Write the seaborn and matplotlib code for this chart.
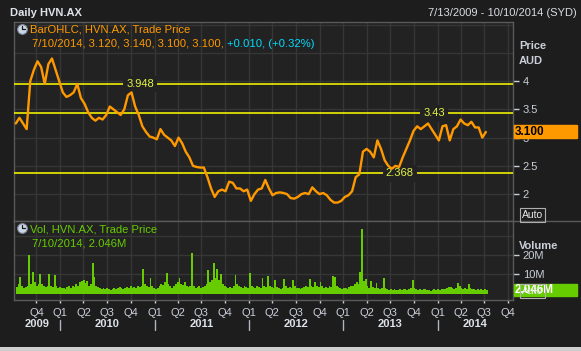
import numpy as np
import pandas as pd
import matplotlib
matplotlib.use("Agg")
import matplotlib.pyplot as plt
import matplotlib.transforms as mtransforms
from matplotlib.lines import Line2D
from matplotlib.patches import Rectangle
import seaborn as sns

# ---- data ----
# price close, sampled every 14 days from 2009-07-13 (AUD)
price_close = [
    3.25, 3.35, 3.25, 3.15, 4.00, 4.20, 4.35, 4.25, 3.95, 4.30,
    4.40, 4.20, 4.00, 3.80, 3.72, 3.75, 3.80, 3.95, 3.70, 3.60,
    3.45, 3.35, 3.30, 3.35, 3.32, 3.40, 3.55, 3.50, 3.45, 3.40,
    3.50, 3.75, 3.80, 3.55, 3.40, 3.20, 3.10, 3.02, 3.00, 2.97,
    3.15, 3.05, 3.00, 2.95, 2.85, 3.00, 2.90, 2.75, 2.65, 2.50,
    2.48, 2.47, 2.47, 2.30, 2.10, 1.95, 2.05, 2.08, 2.05, 2.22,
    2.20, 2.10, 2.10, 2.05, 2.08, 1.88, 2.00, 2.08, 2.10, 2.25,
    2.10, 1.98, 2.02, 2.03, 2.02, 2.00, 1.93, 1.92, 1.95, 2.00,
    2.02, 2.00, 2.12, 2.05, 2.00, 2.02, 1.98, 1.90, 1.85, 1.85,
    1.88, 1.95, 1.98, 2.05, 2.30, 2.35, 2.75, 2.80, 2.75, 2.65,
    2.95, 2.80, 2.60, 2.50, 2.45, 2.50, 2.48, 2.65, 2.80, 2.95,
    3.12, 3.20, 3.15, 3.20, 3.25, 3.15, 3.05, 2.95, 3.20, 3.22,
    2.95, 3.15, 3.20, 3.32, 3.25, 3.22, 3.28, 3.18, 3.18, 3.00,
    3.10,
]

# volume in millions, one bar per week from 2009-07-13
volume_m = [
    3.5, 5, 8.8, 4, 3, 3.5, 4, 20, 5, 11.4, 6, 4, 5,
    10, 5, 4, 3.5, 4, 10, 4, 3.5, 9.5, 4, 3, 3.5, 3,
    3, 2.5, 3.5, 4, 3, 4, 3.5, 5, 4, 6, 6.5, 7, 5.5,
    6.5, 4, 5, 15.7, 8.8, 4, 3.5, 3, 2.5, 3, 2.5, 3, 2.5,
    2, 2.5, 3, 2.5, 3, 3.5, 3, 2.5, 3, 3.5, 3, 4, 3,
    3.5, 3, 4, 3.5, 4, 13, 5, 4, 3.5, 8, 4, 3, 2.5,
    3, 4, 5, 4.5, 6, 10.5, 5, 4, 3, 4, 5, 6, 8,
    5, 4.5, 6, 4, 3.5, 4, 21, 4, 3, 3.5, 4, 3, 3.5,
    4, 5, 12, 6, 7, 15.7, 8, 13, 7, 10, 5, 4, 3.5,
    3, 3.5, 3, 4, 9.5, 5, 4, 3.5, 3, 4, 3.5, 3, 10.5,
    4, 3.5, 3, 4, 3.5, 3, 8, 4, 3.5, 9, 4, 3.5, 3,
    7, 3.5, 3, 2.5, 3, 7.4, 4, 3, 3.5, 3, 7, 4, 3,
    3, 2.5, 3, 3.5, 4, 3.5, 7.4, 4, 3.5, 6, 4, 3.5, 6,
    4, 3, 3.5, 3, 4, 3.5, 9, 8.5, 4, 3.5, 3, 2.5, 3,
    3, 2.5, 3.5, 4, 4, 5, 6, 5, 11, 33.5, 6.5, 7.4, 4,
    3, 6.5, 3.5, 3, 5.7, 3, 2.5, 3, 7.9, 3, 2.5, 2, 2.5,
    2, 2.5, 2, 1.8, 2.5, 2, 2.2, 2.5, 2, 2.5, 3, 7, 3,
    2.5, 2, 2.2, 2, 2.5, 2.5, 2, 1.8, 1.5, 2, 2.5, 2, 2.2,
    2, 2.5, 2.2, 2.5, 3, 3.5, 3.5, 3, 2.5, 3, 5.7, 4, 3,
    2.5, 3, 2.5, 5, 3, 2.5, 2.2, 2, 2.5, 2, 2.2, 2, 2.5,
    2.046,
]

ref_levels = [3.948, 3.43, 2.368]
last_ohlc = [3.120, 3.140, 3.100, 3.100]
last_change = 0.010
last_pct = 0.32
last_date = "7/10/2014"
last_volume = 2.046
years = [2009, 2010, 2011, 2012, 2013, 2014]

price_dates = pd.date_range("2009-07-13", periods=len(price_close), freq="14D")
vol_dates = pd.date_range("2009-07-13", periods=len(volume_m), freq="7D")

# ---- colours ----
BG = "#1d1d1d"
PLOT_BG = "#222222"
GRID = "#363636"
SPINE = "#5a5a5a"
ORANGE = "#ff9900"
GREEN = "#66cc00"
CYAN = "#00ddff"
YELLOW = "#ffff00"
YEL_TXT = "#e2f545"
TXT = "#c9ced8"

sns.set_theme(style="dark", rc={"axes.facecolor": PLOT_BG, "figure.facecolor": BG,
                                "axes.edgecolor": SPINE, "axes.grid": False})
plt.rcParams["font.family"] = ["Liberation Sans", "DejaVu Sans"]

W, H = 581, 351
fig = plt.figure(figsize=(W / 100, H / 100), dpi=100)


def fx(px):
    return px / W


def fy(py):
    return 1 - py / H


ax = fig.add_axes([fx(14), fy(221), fx(513) - fx(14), fy(22) - fy(221)])
axv = fig.add_axes([fx(14), fy(300), fx(513) - fx(14), fy(221) - fy(300)])

x0, x1 = pd.Timestamp("2009-07-06"), pd.Timestamp("2014-10-20")
quarters = pd.date_range("2009-10-01", "2014-10-01", freq="QS")

# --- price panel ---
for v in np.arange(1.5, 5.01, 0.5):
    ax.axhline(v, color=GRID, lw=1, zorder=0)
for q in quarters:
    ax.axvline(q, color=GRID, lw=1, zorder=0)
    axv.axvline(q, color=GRID, lw=1, zorder=0)

# the price line sits above the reference lines and their labels
sns.lineplot(x=price_dates, y=price_close, ax=ax, color=ORANGE, lw=1.7, zorder=5)

ax.set_xlim(x0, x1)
ax.set_ylim(1.524, 5.046)
ax.set_xlabel("")
ax.set_ylabel("")
ax.tick_params(axis="x", bottom=False, labelbottom=False)
ax.yaxis.tick_right()
ax.set_yticks([2, 2.5, 3, 3.5, 4])
ax.set_yticklabels(["2", "2.5", "3", "3.5", "4"])
ax.tick_params(axis="y", right=True, length=4, width=1, pad=3, color=TXT,
               labelcolor=TXT, labelsize=8)

label_dates = ["2010-11-06", "2013-12-19", "2013-08-08"]
for lvl, d in zip(ref_levels, label_dates):
    ax.axhline(lvl, color=YELLOW, lw=1.1, zorder=3)
    ax.text(pd.Timestamp(d), lvl, f"{lvl:g}", color=YEL_TXT, fontsize=8,
            ha="center", va="center", zorder=4,
            bbox=dict(boxstyle="square,pad=0.3", fc=PLOT_BG, ec="none"))

# --- volume panel ---
for v in [10, 20, 30]:
    axv.axhline(v, color=GRID, lw=1, zorder=0)
axv.bar(vol_dates, volume_m, width=7, align="edge", color=GREEN, lw=0, zorder=2)
axv.set_xlim(x0, x1)
axv.set_ylim(-3.3, 37.6)
axv.yaxis.tick_right()
axv.set_yticks([10, 20])
axv.set_yticklabels(["10M", "20M"])
axv.tick_params(axis="y", right=True, length=4, width=1, pad=3, color=TXT,
                labelcolor=TXT, labelsize=8)
axv.set_xticks(quarters)
axv.set_xticklabels([f"Q{q.quarter}" for q in quarters])
axv.tick_params(axis="x", bottom=True, length=2, width=1, pad=4, color=TXT,
                labelcolor=TXT, labelsize=8)

for a in (ax, axv):
    for s in a.spines.values():
        s.set_color(SPINE)
        s.set_linewidth(1)

# year labels under the quarters
blend = mtransforms.blended_transform_factory(axv.transData, axv.transAxes)
for yr in years:
    start = max(pd.Timestamp(f"{yr}-01-01"), x0)
    end = min(pd.Timestamp(f"{yr + 1}-01-01"), x1)
    mid = start + (end - start) / 2
    axv.text(mid, -0.31, str(yr), transform=blend, ha="center", va="center",
             fontsize=8, fontweight="bold", color="#dde1e8", clip_on=False)
    if yr > 2009:
        axv.plot([pd.Timestamp(f"{yr}-01-01")] * 2, [-0.25, -0.38], transform=blend,
                 color="#b0b4bc", lw=1, clip_on=False)

# separator continues to the right edge
fig.add_artist(Line2D([fx(513), 1], [fy(221), fy(221)], color=SPINE, lw=1))

# --- header ---
fig.text(fx(10), fy(13), "Daily HVN.AX", fontsize=8, fontweight="bold",
         color="#e0e3e8", va="center")
fig.text(fx(577), fy(13), "7/13/2009 - 10/10/2014 (SYD)", fontsize=8,
         color="#d8dbe0", va="center", ha="right")


def clock(cx, cy):
    fig.add_artist(Line2D([fx(cx)], [fy(cy)], marker="o", ms=7, mfc="#cdd6e6",
                          mec="#7c8798", mew=0.8))
    fig.add_artist(Line2D([fx(cx), fx(cx)], [fy(cy), fy(cy - 3)], color="k", lw=0.9))
    fig.add_artist(Line2D([fx(cx), fx(cx + 2.5)], [fy(cy), fy(cy)], color="k", lw=0.9))


# price legend
clock(22, 29)
fig.text(fx(30), fy(30), "BarOHLC, HVN.AX, Trade Price", fontsize=8.1,
         color=ORANGE, va="center")
ohlc_txt = ", ".join(f"{v:.3f}" for v in last_ohlc)
t1 = fig.text(fx(32), fy(44), f"{last_date}, {ohlc_txt}, ", fontsize=8.1,
              color=ORANGE, va="center")
ax.annotate(f"+{last_change:.3f}, (+{last_pct:.2f}%)", xy=(1, 0), xycoords=t1,
            va="bottom", ha="left", fontsize=8.1, color=CYAN, annotation_clip=False)

# volume legend
clock(22, 228)
fig.text(fx(30), fy(229), "Vol, HVN.AX, Trade Price", fontsize=8.1,
         color=GREEN, va="center")
fig.text(fx(32), fy(243), f"{last_date}, {last_volume:.3f}M", fontsize=8.1,
         color=GREEN, va="center")

# --- right side labels ---
fig.text(fx(519), fy(46), "Price", fontsize=8, fontweight="bold", color=TXT, va="center")
fig.text(fx(519), fy(61), "AUD", fontsize=8, fontweight="bold", color=TXT, va="center")
fig.text(fx(519), fy(246), "Volume", fontsize=8, fontweight="bold", color=TXT, va="center")
fig.text(fx(522), fy(215), "Auto", fontsize=7.5, color="#e8e8e8", va="center",
         bbox=dict(boxstyle="square,pad=0.15", fc="none", ec="#b0b0b0", lw=0.8))
fig.text(fx(522), fy(291), "Auto", fontsize=7.5, color="#e8e8e8", va="center",
         bbox=dict(boxstyle="square,pad=0.15", fc="none", ec="#b0b0b0", lw=0.8))

# last value boxes
bp = mtransforms.blended_transform_factory(fig.transFigure, ax.transData)
last_close = price_close[-1]
ax.add_patch(Rectangle((fx(514), last_close - 6.5 / 56.5), fx(577) - fx(514), 13 / 56.5,
                       transform=bp, color=ORANGE, clip_on=False, zorder=6))
ax.text(fx(515), last_close, f"{last_close:.3f}", transform=bp, fontsize=8.5,
        fontweight="bold", color="black", va="center", clip_on=False, zorder=7)

bv = mtransforms.blended_transform_factory(fig.transFigure, axv.transData)
axv.add_patch(Rectangle((fx(514), last_volume - 6 / 1.93), fx(577) - fx(514), 12 / 1.93,
                        transform=bv, color=GREEN, clip_on=False, zorder=5))
axv.text(fx(515), last_volume, f"{last_volume:.3f}M", transform=bv, fontsize=8.5,
         fontweight="bold", color="white", va="center", clip_on=False, zorder=6)

# light strip at the bottom edge
fig.add_artist(Rectangle((0, 0), 1, 4 / H, transform=fig.transFigure,
                         color="#cfcfcf", lw=0))

fig.savefig("out.png", dpi=100, facecolor=BG)
